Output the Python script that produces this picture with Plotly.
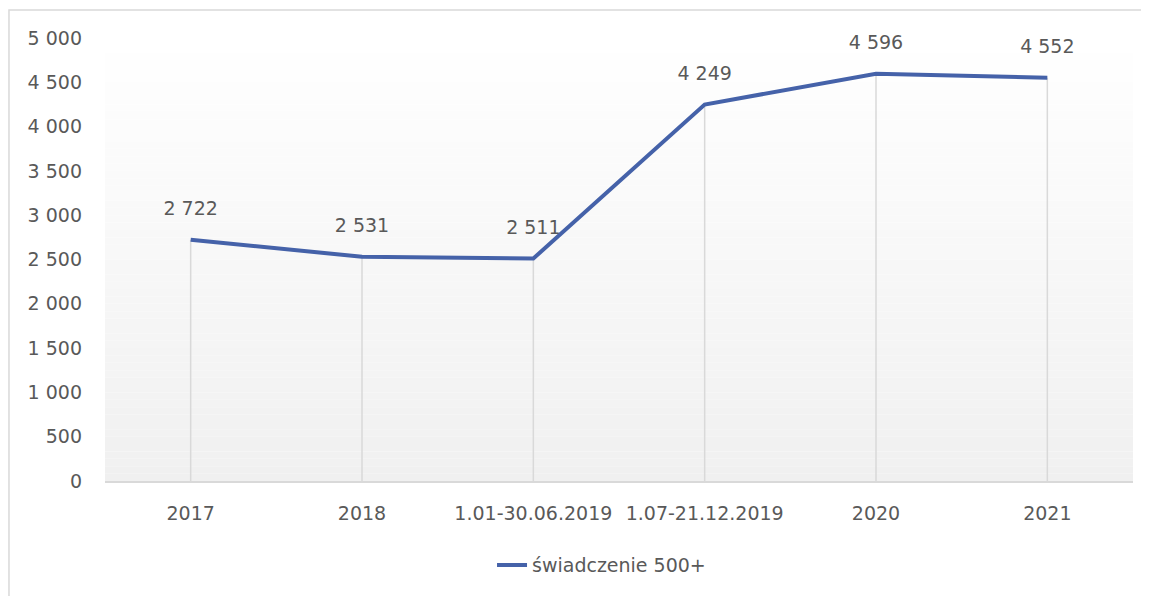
import plotly.graph_objects as go

categories = ["2017", "2018", "1.01-30.06.2019", "1.07-21.12.2019", "2020", "2021"]
values = [2722, 2531, 2511, 4249, 4596, 4552]
series_name = "świadczenie 500+"
y_ticks = [0, 500, 1000, 1500, 2000, 2500, 3000, 3500, 4000, 4500, 5000]

TEXT = "#595959"
GRID = "#d9d9d9"
LINE = "#4562A9"
FONT = "DejaVu Sans"
FS = 19


def fmt(v):
    return f"{v:,}".replace(",", " ")


fig = go.Figure()

# drop lines from the axis up to each point
drop_x, drop_y = [], []
for c, v in zip(categories, values):
    drop_x += [c, c, None]
    drop_y += [0, v, None]
fig.add_trace(go.Scatter(
    x=drop_x, y=drop_y, mode="lines",
    line=dict(color=GRID, width=1.5),
    showlegend=False, hoverinfo="skip",
))

fig.add_trace(go.Scatter(
    x=categories, y=values, mode="lines+markers+text",
    name=series_name,
    line=dict(color=LINE, width=4),
    marker=dict(size=30, color="rgba(0,0,0,0)"),
    text=[fmt(v) for v in values],
    textposition="top center",
    textfont=dict(color=TEXT, size=FS, family=FONT),
    cliponaxis=False,
))

# vertical gradient of the plot area, white -> light grey
shapes = []
n = 60
for i in range(n):
    t = (i + 0.5) / n
    g = round(255 - (255 - 240) * t)
    shapes.append(dict(
        type="rect", xref="paper", yref="paper",
        x0=0, x1=1, y0=1 - (i + 1) / n, y1=1 - i / n,
        fillcolor=f"rgb({g},{g},{g})", line=dict(width=0), layer="below",
    ))

# outer chart frame (only top and left visible)
shapes.append(dict(
    type="rect", xref="paper", yref="paper",
    x0=-0.0934, x1=1.2, y0=-0.6, y1=1.063,
    line=dict(color=GRID, width=1.5), fillcolor="rgba(0,0,0,0)",
))

fig.update_layout(
    width=1141, height=588,
    margin=dict(l=97, r=16, t=30, b=115),
    paper_bgcolor="white",
    plot_bgcolor="white",
    font=dict(family=FONT, color=TEXT, size=FS),
    shapes=shapes,
    showlegend=True,
    legend=dict(
        orientation="h", x=0.483, xanchor="center",
        y=-0.19, yanchor="middle",
        font=dict(size=FS, color=TEXT, family=FONT),
    ),
    xaxis=dict(
        type="category",
        categoryorder="array", categoryarray=categories,
        range=[-0.5, len(categories) - 0.5],
        showgrid=False, zeroline=False,
        showline=True, linecolor=GRID, linewidth=2,
        ticks="", ticklabelstandoff=14,
        tickfont=dict(size=FS, color=TEXT, family=FONT),
    ),
    yaxis=dict(
        range=[0, 5000],
        tickvals=y_ticks,
        ticktext=[fmt(v) for v in y_ticks],
        showgrid=False, zeroline=False, showline=False,
        ticks="", ticklabelstandoff=22,
        tickfont=dict(size=FS, color=TEXT, family=FONT),
    ),
)

fig.write_html("out.html")
